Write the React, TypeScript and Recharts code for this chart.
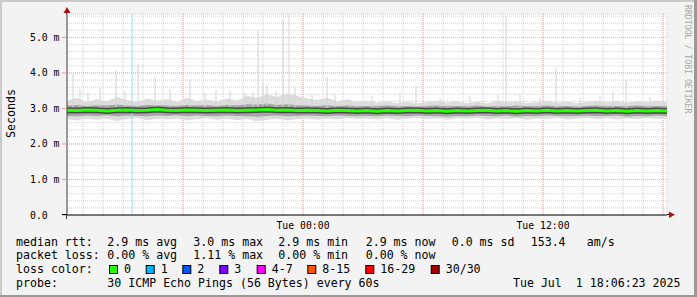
import React from 'react';
import { ComposedChart, Area, Line, XAxis, YAxis, CartesianGrid, ReferenceLine } from 'recharts';

// sample times, hours since Mon 00:00
const hours = [
  12.2, 12.7, 13.2, 13.7, 14.2, 14.7, 15.2, 15.7, 16.2, 16.7,
  17.2, 17.7, 18.2, 18.7, 19.2, 19.7, 20.2, 20.7, 21.2, 21.7,
  22.2, 22.7, 23.2, 23.7, 24.2, 24.7, 25.2, 25.7, 26.2, 26.7,
  27.2, 27.7, 28.2, 28.7, 29.2, 29.7, 30.2, 30.7, 31.2, 31.7,
  32.2, 32.7, 33.2, 33.7, 34.2, 34.7, 35.2, 35.7, 36.2, 36.7,
  37.2, 37.7, 38.2, 38.7, 39.2, 39.7, 40.2, 40.7, 41.2, 41.7, 42.2,
];

// median rtt in ms
const median = [
  2.95, 2.94, 2.96, 2.95, 2.93, 2.95, 2.96, 2.94, 2.95, 2.97,
  2.95, 2.94, 2.96, 2.95, 2.94, 2.95, 2.96, 2.94, 2.95, 2.96,
  2.97, 2.95, 2.96, 2.94, 2.95, 2.94, 2.93, 2.95, 2.94, 2.93,
  2.94, 2.92, 2.94, 2.93, 2.94, 2.95, 2.93, 2.94, 2.92, 2.94,
  2.93, 2.94, 2.95, 2.93, 2.94, 2.92, 2.94, 2.93, 2.95, 2.93,
  2.94, 2.93, 2.94, 2.95, 2.93, 2.94, 2.92, 2.94, 2.93, 2.94, 2.93,
];

// outer (light) smoke
const lightHi = [
  3.22, 3.30, 3.18, 3.26, 3.20, 3.32, 3.24, 3.19, 3.28, 3.22,
  3.26, 3.18, 3.30, 3.21, 3.25, 3.20, 3.28, 3.22, 3.35, 3.30,
  3.40, 3.32, 3.42, 3.36, 3.28, 3.24, 3.30, 3.20, 3.26, 3.18,
  3.22, 3.16, 3.20, 3.15, 3.19, 3.14, 3.18, 3.22, 3.16, 3.20,
  3.15, 3.19, 3.14, 3.22, 3.17, 3.20, 3.15, 3.18, 3.21, 3.16,
  3.20, 3.15, 3.19, 3.22, 3.17, 3.21, 3.16, 3.20, 3.18, 3.22, 3.19,
];
const lightLo = [
  2.70, 2.66, 2.72, 2.68, 2.71, 2.65, 2.70, 2.73, 2.67, 2.71,
  2.69, 2.72, 2.66, 2.70, 2.73, 2.68, 2.71, 2.67, 2.70, 2.64,
  2.68, 2.71, 2.66, 2.70, 2.72, 2.68, 2.71, 2.69, 2.73, 2.70,
  2.72, 2.69, 2.73, 2.68, 2.71, 2.74, 2.70, 2.72, 2.68, 2.73,
  2.71, 2.74, 2.69, 2.72, 2.70, 2.73, 2.68, 2.72, 2.70, 2.73,
  2.69, 2.72, 2.74, 2.70, 2.73, 2.69, 2.72, 2.70, 2.73, 2.71, 2.72,
];

// inner (darker) smoke
const midHi = [
  3.08, 3.10, 3.07, 3.09, 3.08, 3.11, 3.08, 3.07, 3.10, 3.09,
  3.08, 3.07, 3.10, 3.08, 3.09, 3.07, 3.10, 3.08, 3.12, 3.11,
  3.14, 3.10, 3.12, 3.09, 3.08, 3.07, 3.09, 3.06, 3.08, 3.06,
  3.07, 3.06, 3.08, 3.06, 3.07, 3.05, 3.07, 3.08, 3.06, 3.07,
  3.06, 3.08, 3.05, 3.07, 3.06, 3.08, 3.06, 3.07, 3.08, 3.06,
  3.07, 3.05, 3.07, 3.08, 3.06, 3.07, 3.06, 3.08, 3.06, 3.07, 3.06,
];
const midLo = [
  2.79, 2.78, 2.80, 2.79, 2.81, 2.78, 2.80, 2.79, 2.78, 2.80,
  2.79, 2.81, 2.78, 2.80, 2.79, 2.78, 2.80, 2.79, 2.78, 2.77,
  2.79, 2.80, 2.78, 2.79, 2.80, 2.79, 2.78, 2.80, 2.79, 2.78,
  2.79, 2.78, 2.80, 2.79, 2.78, 2.80, 2.79, 2.78, 2.77, 2.79,
  2.78, 2.80, 2.79, 2.78, 2.80, 2.77, 2.79, 2.78, 2.80, 2.79,
  2.78, 2.79, 2.80, 2.78, 2.79, 2.80, 2.77, 2.79, 2.78, 2.80, 2.79,
];

// single tall pings
const spikeHours = [
  12.5, 12.85, 13.25, 13.85, 14.65, 15.1, 15.75, 16.6, 17.35, 18.35,
  19.1, 19.65, 20.35, 21.1, 21.5, 21.75, 22.0, 22.2, 22.65, 23.0,
  23.3, 23.6, 24.45, 25.2, 25.6, 26.35, 27.45, 28.85, 29.65, 30.85,
  32.35, 33.75, 34.15, 34.85, 35.85, 36.65, 37.85, 38.85, 39.5, 40.15, 41.35,
];
const spikeTops = [
  4.0, 3.55, 3.45, 3.58, 4.08, 3.5, 4.28, 3.89, 3.55, 3.8,
  3.45, 3.52, 3.5, 3.45, 3.44, 5.2, 3.75, 3.66, 3.5, 5.5,
  5.66, 3.6, 3.4, 3.89, 3.38, 3.24, 3.35, 3.42, 3.66, 3.3,
  3.35, 3.38, 5.6, 3.4, 3.3, 4.14, 3.3, 3.35, 3.46, 3.8, 3.32,
];

const lossHour = 15.45;

const xTicks = [
  13, 14, 15, 16, 17, 18, 19, 20, 21, 22, 23, 24, 25, 26, 27,
  28, 29, 30, 31, 32, 33, 34, 35, 36, 37, 38, 39, 40, 41, 42,
];
const xMajor = [18, 24, 30, 36, 42];
const xLabelHours = [24, 36];
const xLabels = ['Tue 00:00', 'Tue 12:00'];

const yTicks = [
  0, 0.2, 0.4, 0.6, 0.8, 1, 1.2, 1.4, 1.6, 1.8, 2, 2.2, 2.4, 2.6, 2.8,
  3, 3.2, 3.4, 3.6, 3.8, 4, 4.2, 4.4, 4.6, 4.8, 5, 5.2, 5.4, 5.6,
];
const yMajor = [1, 2, 3, 4, 5];
const yLabelValues = [0, 1, 2, 3, 4, 5];
const yLabels = ['0.0', '1.0 m', '2.0 m', '3.0 m', '4.0 m', '5.0 m'];

const lossLabels = ['0', '1', '2', '3', '4-7', '8-15', '16-29', '30/30'];
const lossColors = ['#26ff00', '#00b8ff', '#0059ff', '#7e00ff', '#ff00ff', '#ff5500', '#ff0000', '#a10000'];
const lossBoxX = [109, 145.7, 182.3, 219.3, 256.7, 307.3, 365.3, 430.7];

const rttItems = ['2.9 ms avg', '3.0 ms max', '2.9 ms min', '2.9 ms now', '0.0 ms sd', '153.4', 'am/s'];
const rttX = [107.3, 193.3, 278.3, 365.7, 451.7, 530.7, 586.7];
const lossItems = ['0.00 % avg', '1.11 % max', '0.00 % min', '0.00 % now'];

const rows = hours.map((t, i) => ({
  t,
  light: [lightLo[i], lightHi[i]],
  mid: [midLo[i], midHi[i]],
  median: median[i],
}));

const MONO = '"DejaVu Sans Mono", monospace';

const YTick = (props: any) => {
  const { x, y, payload } = props;
  const idx = yLabelValues.indexOf(payload.value);
  if (idx < 0) return <g />;
  return (
    <g>
      <line x1={x - 5} x2={x} y1={y} y2={y} stroke="#d99" />
      <text x={x - 37} y={y} dominantBaseline="central" fontFamily={MONO} fontSize={9.8} fill="#000" style={{ whiteSpace: 'pre' }}>
        {yLabels[idx]}
      </text>
    </g>
  );
};

const XTick = (props: any) => {
  const { x, y, payload } = props;
  const idx = xLabelHours.indexOf(payload.value);
  if (idx < 0) return <g />;
  return (
    <text x={x} y={y + 10} textAnchor="middle" dominantBaseline="central" fontFamily={MONO} fontSize={9.8} fill="#000">
      {xLabels[idx]}
    </text>
  );
};

const txt = { fontFamily: MONO, fontSize: 11.6, fill: '#000', whiteSpace: 'pre' as const };

export default function App() {
  return (
    <div style={{ position: 'absolute', top: 0, left: 0, width: 697, height: 297, background: '#f3f3f3' }}>
      <style>{'body{margin:0}'}</style>
      <ComposedChart width={697} height={297} data={rows} margin={{ top: 14, right: 30, bottom: 62, left: 7 }}>
        <CartesianGrid stroke="#d2d2d2" strokeDasharray="1 1" fill="#ffffff" fillOpacity={1} />
        <CartesianGrid stroke="#e6b0b0" strokeDasharray="1 1" fill="none" horizontalValues={yMajor} verticalValues={xMajor} />
        <XAxis
          dataKey="t"
          type="number"
          domain={[12.2, 42.2]}
          allowDataOverflow
          ticks={xTicks}
          interval={0}
          tick={<XTick />}
          tickLine={false}
          tickSize={0}
          tickMargin={0}
          height={20}
          axisLine={{ stroke: '#000' }}
        />
        <YAxis
          type="number"
          domain={[0, 5.66]}
          allowDataOverflow
          ticks={yTicks}
          interval={0}
          tick={<YTick />}
          tickLine={false}
          tickSize={0}
          tickMargin={0}
          width={60}
          axisLine={{ stroke: '#444' }}
        />
        <Area dataKey="light" type="linear" stroke="none" fill="#dcdcdc" fillOpacity={1} isAnimationActive={false} />
        {spikeHours.map((h, i) => (
          <ReferenceLine key={i} segment={[{ x: h, y: 3.0 }, { x: h, y: spikeTops[i] }]} stroke="#d4d4d4" strokeWidth={1} />
        ))}
        <Area dataKey="mid" type="linear" stroke="none" fill="#a6a6a6" fillOpacity={1} isAnimationActive={false} />
        <ReferenceLine x={lossHour} stroke="#9fdcf6" strokeWidth={1} />
        <Line dataKey="median" type="linear" stroke="#4a4a4a" strokeWidth={6} dot={false} activeDot={false} isAnimationActive={false} />
        <Line dataKey="median" type="linear" stroke="#26ff00" strokeWidth={3} dot={false} activeDot={false} isAnimationActive={false} />
      </ComposedChart>
      <svg width={697} height={297} style={{ position: 'absolute', top: 0, left: 0, pointerEvents: 'none' }}>
        <rect x={0} y={0} width={697} height={2} fill="#cbcbcb" />
        <rect x={0} y={0} width={2} height={297} fill="#cbcbcb" />
        <rect x={694} y={0} width={3} height={297} fill="#999" />
        <rect x={0} y={295} width={697} height={2} fill="#999" />
        {/* axis arrows */}
        <line x1={66.5} x2={66.5} y1={11} y2={14} stroke="#444" />
        <line x1={66.5} x2={66.5} y1={215} y2={219} stroke="#444" />
        <line x1={62} x2={67} y1={214.5} y2={214.5} stroke="#000" />
        <line x1={667} x2={670} y1={214.5} y2={214.5} stroke="#000" />
        <polygon points="63.5,13 70.5,13 67,7" fill="#a31515" />
        <polygon points="669,211.5 669,218 675,214.75" fill="#a31515" />
        <text transform="translate(11,113.5) rotate(-90)" textAnchor="middle" dominantBaseline="central" style={txt}>Seconds</text>
        <text transform="translate(688,5) rotate(90)" dominantBaseline="central" fontFamily={MONO} fontSize={8.2} fill="#a8a8a8">RRDTOOL / TOBI OETIKER</text>

        <text x={16} y={241.7} dominantBaseline="central" style={txt}>median rtt:</text>
        {rttItems.map((s, i) => (
          <text key={s + i} x={rttX[i]} y={241.7} dominantBaseline="central" style={txt}>{s}</text>
        ))}
        <text x={16} y={255} dominantBaseline="central" style={txt}>packet loss:</text>
        {lossItems.map((s, i) => (
          <text key={s + i} x={rttX[i]} y={255} dominantBaseline="central" style={txt}>{s}</text>
        ))}
        <text x={16} y={269.3} dominantBaseline="central" style={txt}>loss color:</text>
        {lossLabels.map((s, i) => (
          <g key={s}>
            <rect x={lossBoxX[i] + 0.5} y={265.5} width={8} height={8} fill={lossColors[i]} stroke="#000" />
            <text x={lossBoxX[i] + 15} y={269.3} dominantBaseline="central" style={txt}>{s}</text>
          </g>
        ))}
        <text x={16} y={282.7} dominantBaseline="central" style={txt}>probe:</text>
        <text x={107.3} y={282.7} dominantBaseline="central" style={txt}>30 ICMP Echo Pings (56 Bytes) every 60s</text>
        <text x={680.5} y={282.7} textAnchor="end" dominantBaseline="central" style={txt}>Tue Jul  1 18:06:23 2025</text>
      </svg>
    </div>
  );
}
